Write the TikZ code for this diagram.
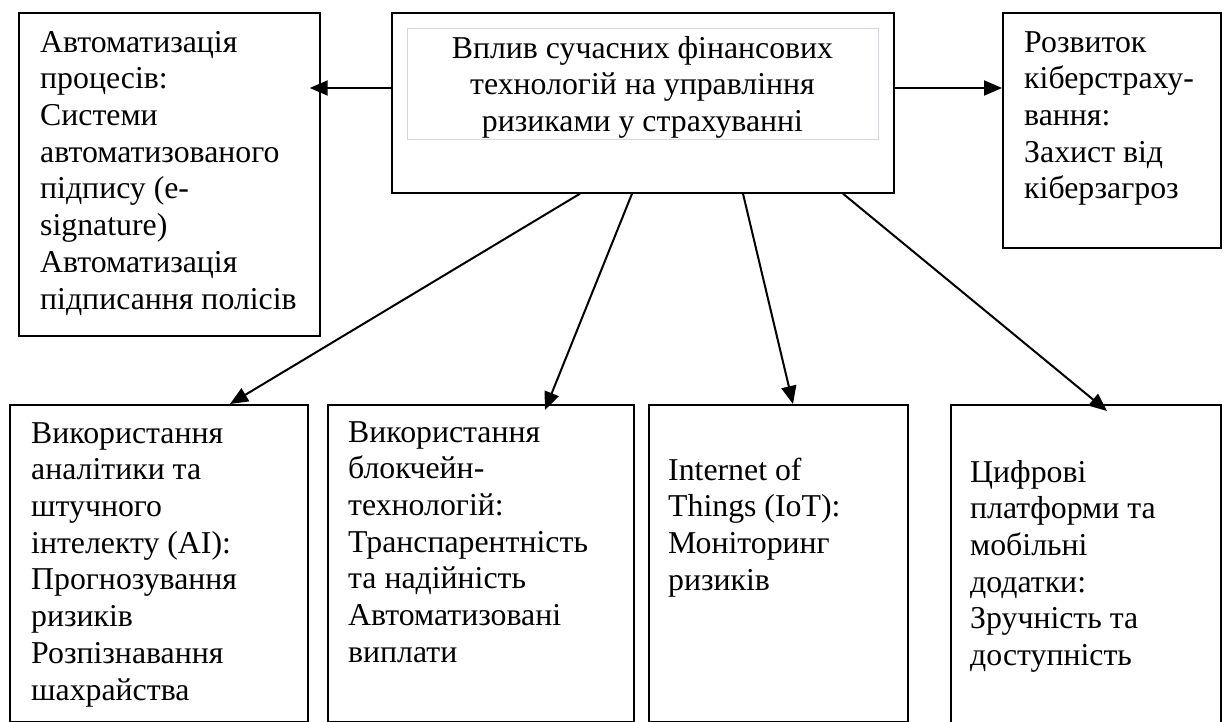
\documentclass[tikz,border=0pt]{standalone}
\usepackage{fontspec}
\setmainfont{Liberation Serif}
\usetikzlibrary{arrows.meta,calc}
\definecolor{framegray}{RGB}{214,214,224}
\begin{document}
\begin{tikzpicture}[x=1pt,y=-1pt,
  box/.style={draw=black,line width=1.7pt,anchor=north west,inner sep=0pt},
  txt/.style={anchor=north west,inner sep=0pt,align=left,font=\fontsize{31.8}{36.7}\selectfont},
  arr/.style={draw=black,line width=2pt,-{Triangle[length=18pt,width=15pt]}}]
\useasboundingbox (0,0) rectangle (1226,722);
% boxes
\node[box,minimum width=301pt,minimum height=323pt] (L) at (18,12) {};
\node[box,minimum width=502pt,minimum height=180pt] (C) at (391,12) {};
\node[draw=framegray,line width=0.8pt,anchor=north west,inner sep=0pt,minimum width=471pt,minimum height=111pt] (Cin) at (407,28) {};
\node[box,minimum width=218pt,minimum height=235pt] (R) at (1002,12) {};
\node[box,minimum width=298pt,minimum height=317pt] (B1) at (9,404) {};
\node[box,minimum width=306pt,minimum height=317pt] (B2) at (327,404) {};
\node[box,minimum width=259pt,minimum height=317pt] (B3) at (648,404) {};
\node[box,minimum width=270pt,minimum height=340pt] (B4) at (950,404) {};
% texts
\node[txt] (tL) at (40,26.3) {\strut Автоматизація\\процесів:\\Системи\\автоматизованого\\підпису (e-\\signature)\\Автоматизація\\підписання полісів};
\node[txt,anchor=north,align=center] (tC) at (642.5,32.3) {\strut Вплив сучасних фінансових\\технологій на управління\\ризиками у страхуванні};
\node[txt] (tR) at (1024,26.3) {\strut Розвиток\\кіберстраху-\\вання:\\Захист від\\кіберзагроз};
\node[txt] (t1) at (31,417.3) {\strut Використання\\аналітики та\\штучного\\інтелекту (AI):\\Прогнозування\\ризиків\\Розпізнавання\\шахрайства};
\node[txt] (t2) at (348,416.3) {\strut Використання\\блокчейн-\\технологій:\\Транспарентність\\та надійність\\Автоматизовані\\виплати};
\node[txt] (t3) at (668,454.3) {\strut Internet of\\Things (IoT):\\Моніторинг\\ризиків};
\node[txt] (t4) at (970,456.3) {\strut Цифрові\\платформи та\\мобільні\\додатки:\\Зручність та\\доступність};
% connector ends
\coordinate (eL) at ($(L.north east)+(-11,76)$);
\coordinate (eR) at ($(R.north west)+(0,76)$);
\coordinate (s1) at ($(C.south west)+(189,0)$);
\coordinate (s2) at ($(C.south west)+(241,0)$);
\coordinate (s3) at ($(C.south west)+(352,0)$);
\coordinate (s4) at ($(C.south west)+(452,0)$);
\coordinate (e1) at ($(B1.north west)+(221,0)$);
\coordinate (e2) at ($(B2.north west)+(218,6)$);
\coordinate (e3) at ($(B3.north west)+(145,0)$);
\coordinate (e4) at ($(B4.north west)+(157,7)$);
% connectors
\draw[arr] (C.west |- eL) -- (eL);
\draw[arr] (C.east |- eR) -- (eR);
\draw[arr] (s1) -- (e1);
\draw[arr] (s2) -- (e2);
\draw[arr] (s3) -- (e3);
\draw[arr] (s4) -- (e4);
\end{tikzpicture}
\end{document}
